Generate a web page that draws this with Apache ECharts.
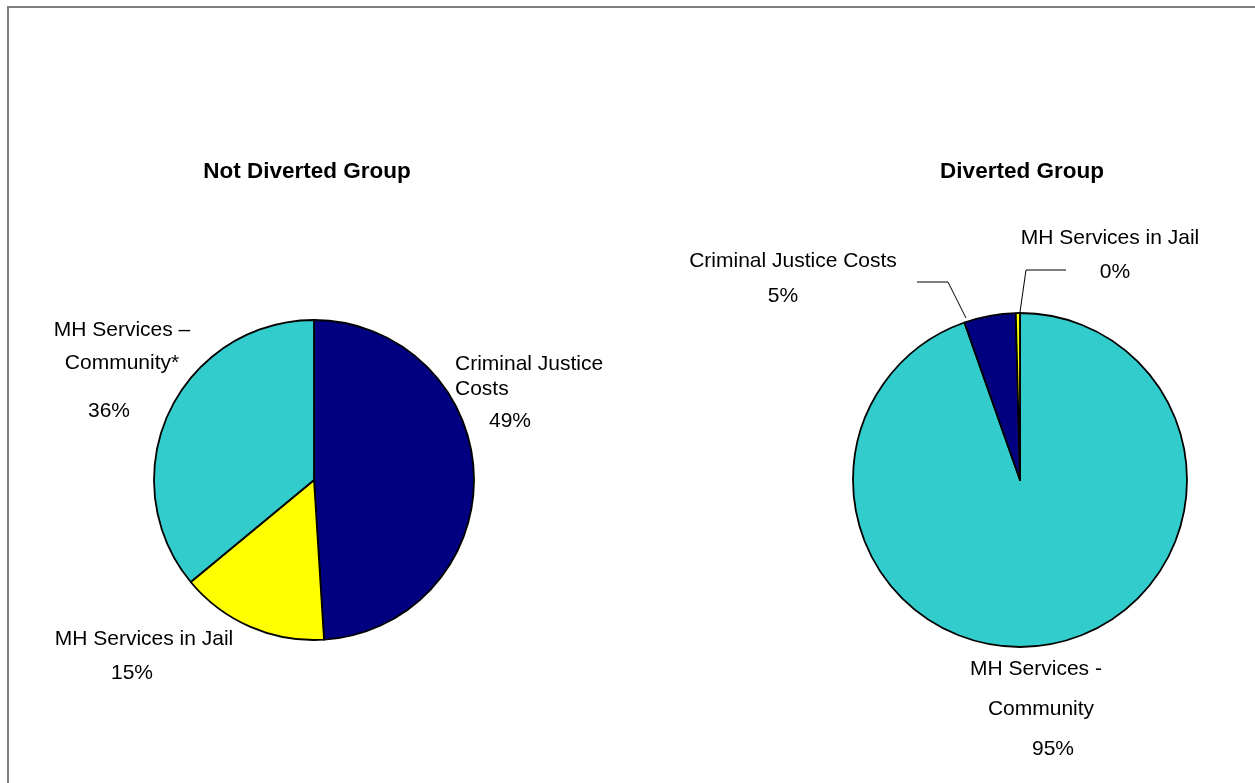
<!DOCTYPE html>
<html>
<head>
<meta charset="utf-8">
<script src="https://cdn.jsdelivr.net/npm/echarts@6/dist/echarts.min.js"></script>
<style>
  html, body { margin: 0; padding: 0; background: #fff; }
  #chart { width: 1255px; height: 783px; }
</style>
</head>
<body>
<div id="chart"></div>
<script>
// Cost breakdown, share of total (%)
const notDivertedNames = ['Criminal Justice Costs', 'MH Services in Jail', 'MH Services – Community*'];
const notDivertedValues = [49, 15, 36];

const divertedNames = ['MH Services - Community', 'Criminal Justice Costs', 'MH Services in Jail'];
const divertedValues = [94.6, 5.0, 0.4];

const groupTitles = ['Not Diverted Group', 'Diverted Group'];

const COLORS = { cj: '#000080', jail: '#FFFF00', community: '#33CCCC' };
const FONT = "'Liberation Sans', Arial, sans-serif";
const LABEL_SIZE = 21;

// label text lines (the percentage is appended from the value)
const notDivertedLabelLines = [['Criminal Justice', 'Costs'], ['MH Services in Jail'], ['MH Services –', 'Community*']];
const divertedLabelLines = [['MH Services -', 'Community'], ['Criminal Justice Costs'], ['MH Services in Jail']];

// placement and typography of each label
const leftLabelStyle = [
  { x: 455, y: 352, align: 'left', lh: [25, 25], pLh: 38, pPad: [0, 0, 0, 34] },
  { x: 144, y: 624, align: 'center', lh: [30], pLh: 38, pPad: [0, 24, 0, 0] },
  { x: 122, y: 315, align: 'center', lh: [30, 36], pLh: 60, pPad: [0, 26, 0, 0] }
];
const rightLabelStyle = [
  { x: 1036, y: 649, align: 'center', lh: [40, 40], pLh: 40, pPad: [0, 0, 0, 34], linePad: [null, [0, 0, 0, 10]] },
  { x: 793, y: 246, align: 'center', lh: [30], pLh: 40, pPad: [0, 20, 0, 0],
    leader: [[966, 318], [948, 282], [917, 282]] },
  { x: 1110, y: 223, align: 'center', lh: [30], pLh: 38, pPad: [0, 0, 0, 10],
    leader: [[1020, 312], [1026, 270], [1066, 270]] }
];

function buildLabel(lines, st, value) {
  const rich = {};
  const parts = [];
  lines.forEach(function (line, i) {
    const key = 'l' + i;
    rich[key] = {
      fontFamily: FONT, fontSize: LABEL_SIZE, color: '#000',
      lineHeight: st.lh[i],
      padding: (st.linePad && st.linePad[i]) ? st.linePad[i] : [0, 0, 0, 0]
    };
    parts.push('{' + key + '|' + line + '}');
  });
  rich.p = { fontFamily: FONT, fontSize: LABEL_SIZE, color: '#000', lineHeight: st.pLh, padding: st.pPad };
  parts.push('{p|' + Math.round(value) + '%}');
  return { text: parts.join('\n'), rich: rich };
}

function buildData(names, values, colors, labelLines, labelStyle) {
  return names.map(function (name, i) {
    const lbl = buildLabel(labelLines[i], labelStyle[i], values[i]);
    return {
      name: name,
      value: values[i],
      itemStyle: { color: colors[i] },
      label: { formatter: lbl.text, rich: lbl.rich, align: labelStyle[i].align },
      labelLine: { show: !!labelStyle[i].leader }
    };
  });
}

function layoutFor(styles) {
  return function (params) {
    const st = styles[params.dataIndex];
    const out = { x: st.x, y: st.y, align: st.align, verticalAlign: 'top' };
    if (st.leader) out.labelLinePoints = st.leader;
    return out;
  };
}

const chart = echarts.init(document.getElementById('chart'), null, { renderer: 'canvas' });

const pieCommon = {
  type: 'pie',
  startAngle: 90,
  clockwise: true,
  animation: false,
  silent: true,
  avoidLabelOverlap: false,
  itemStyle: { borderColor: '#000', borderWidth: 1.8 },
  label: { show: true, position: 'outside', color: '#000', fontFamily: FONT, fontSize: LABEL_SIZE },
  emphasis: { disabled: true }
};

const titleStyle = { fontFamily: FONT, fontSize: 22.5, fontWeight: 'bold', color: '#000' };

chart.setOption({
  backgroundColor: '#fff',
  animation: false,
  title: [
    { text: groupTitles[0], left: 307, top: 160, textAlign: 'center', padding: 0, textStyle: titleStyle },
    { text: groupTitles[1], left: 1022, top: 160, textAlign: 'center', padding: 0, textStyle: titleStyle }
  ],
  graphic: [
    { type: 'polyline', silent: true,
      shape: { points: [[8, 783], [8, 7], [1255, 7]] },
      style: { stroke: '#808080', lineWidth: 2, fill: null } }
  ],
  series: [
    Object.assign({}, pieCommon, {
      center: [314, 480],
      radius: 160,
      labelLine: { show: false },
      labelLayout: layoutFor(leftLabelStyle),
      data: buildData(notDivertedNames, notDivertedValues,
        [COLORS.cj, COLORS.jail, COLORS.community], notDivertedLabelLines, leftLabelStyle)
    }),
    Object.assign({}, pieCommon, {
      center: [1020, 480],
      radius: 167,
      labelLine: { show: true, lineStyle: { color: '#000', width: 1 }, length: 10, length2: 10 },
      labelLayout: layoutFor(rightLabelStyle),
      data: buildData(divertedNames, divertedValues,
        [COLORS.community, COLORS.cj, COLORS.jail], divertedLabelLines, rightLabelStyle)
    })
  ]
});
</script>
</body>
</html>
